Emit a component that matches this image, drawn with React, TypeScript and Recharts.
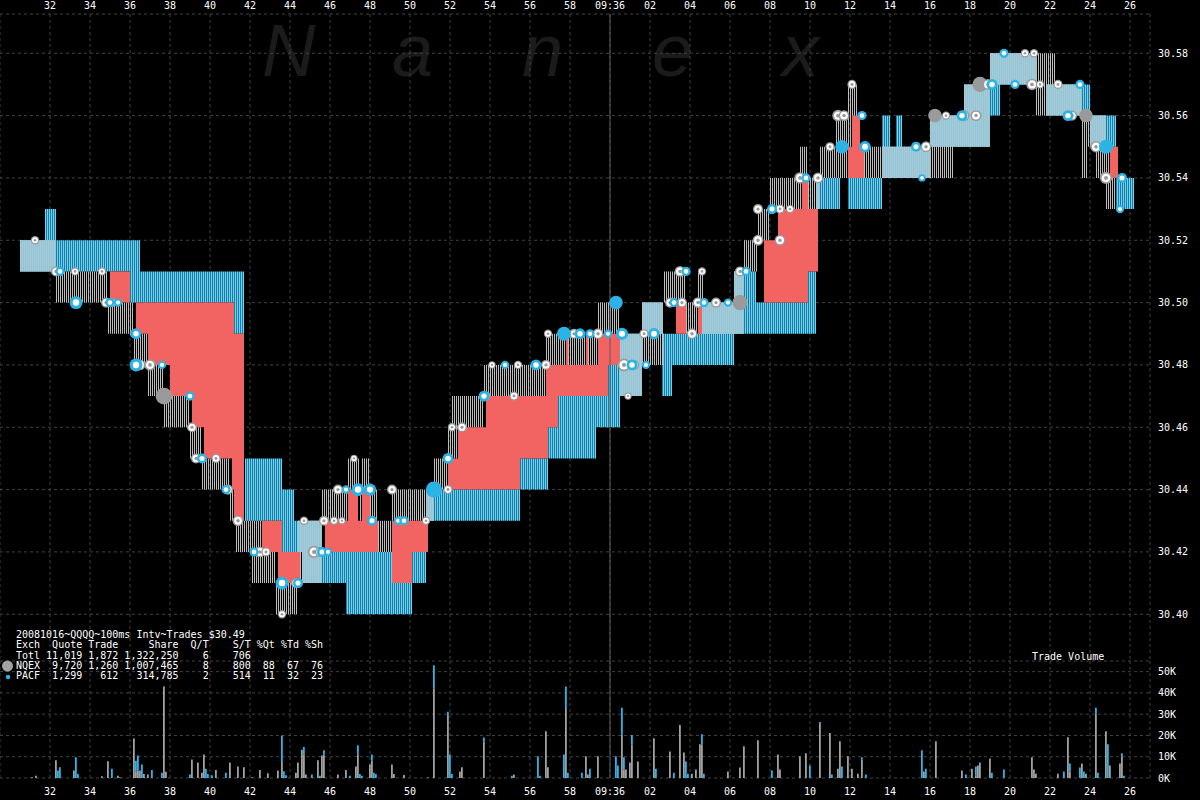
import React from 'react';
import { ComposedChart, Area, Scatter, Bar, XAxis, YAxis, ZAxis, CartesianGrid, ReferenceLine } from 'recharts';

// seconds after 09:35:00
const TIME_TICKS = [32, 34, 36, 38, 40, 42, 44, 46, 48, 50, 52, 54, 56, 58, 60, 62, 64, 66, 68, 70, 72, 74, 76, 78, 80, 82, 84, 86];
const PRICE_TICKS = [30.4, 30.42, 30.44, 30.46, 30.48, 30.5, 30.52, 30.54, 30.56, 30.58];
const VOLUME_TICKS = [0, 10000, 20000, 30000, 40000, 50000];

// quote bands: [start, end, low, high]
const NQEX_QUOTES = [
  [30.5, 32.3, 30.51, 30.52], [32.3, 34.9, 30.5, 30.51], [34.9, 36.2, 30.49, 30.5], [36.2, 36.9, 30.48, 30.49],
  [36.9, 37.7, 30.47, 30.48], [37.7, 39.0, 30.46, 30.47], [39.0, 39.6, 30.45, 30.46], [39.6, 41.0, 30.44, 30.45],
  [41.0, 41.3, 30.43, 30.44], [41.3, 42.1, 30.42, 30.43], [42.1, 42.6, 30.41, 30.43], [42.6, 43.3, 30.41, 30.42],
  [43.3, 44.4, 30.4, 30.41], [44.4, 45.6, 30.41, 30.43], [45.6, 46.9, 30.43, 30.44], [46.9, 47.5, 30.44, 30.45],
  [47.5, 47.6, 30.43, 30.44], [47.6, 48.0, 30.44, 30.45], [48.0, 48.4, 30.43, 30.44], [48.4, 49.1, 30.42, 30.43],
  [49.1, 51.2, 30.43, 30.44], [51.2, 51.9, 30.44, 30.45], [51.9, 52.1, 30.45, 30.46], [52.1, 52.4, 30.45, 30.47],
  [52.4, 53.7, 30.46, 30.47], [53.7, 56.8, 30.47, 30.48], [56.8, 59.4, 30.48, 30.49], [59.4, 60.5, 30.49, 30.5],
  [60.5, 61.6, 30.47, 30.49], [61.6, 62.7, 30.48, 30.5], [62.7, 63.8, 30.5, 30.51], [63.8, 64.4, 30.49, 30.5],
  [64.4, 64.7, 30.49, 30.51], [64.7, 66.2, 30.49, 30.5], [66.2, 66.7, 30.49, 30.51], [66.7, 67.4, 30.51, 30.52],
  [67.4, 68.0, 30.52, 30.53], [68.0, 69.5, 30.53, 30.54], [69.5, 69.9, 30.53, 30.55], [69.9, 70.5, 30.53, 30.54],
  [70.5, 71.3, 30.54, 30.55], [71.3, 71.9, 30.54, 30.56], [71.9, 72.4, 30.55, 30.57], [72.4, 76.0, 30.54, 30.55],
  [76.0, 77.2, 30.54, 30.56], [77.2, 77.7, 30.55, 30.56], [77.7, 79.0, 30.55, 30.57], [79.0, 81.3, 30.57, 30.58],
  [81.3, 82.3, 30.56, 30.58], [82.3, 83.6, 30.56, 30.57], [83.6, 83.9, 30.54, 30.56], [83.9, 84.3, 30.55, 30.56],
  [84.3, 84.8, 30.54, 30.56], [84.8, 85.3, 30.53, 30.55],
];

const PACF_QUOTES = [
  [30.5, 31.75, 30.51, 30.52], [31.75, 32.3, 30.51, 30.53], [32.3, 36.0, 30.51, 30.52], [36.0, 36.5, 30.5, 30.52],
  [36.5, 41.2, 30.5, 30.51], [41.2, 41.7, 30.49, 30.51], [41.75, 43.6, 30.43, 30.45], [43.6, 44.2, 30.42, 30.44],
  [44.2, 44.6, 30.42, 30.43], [44.6, 45.6, 30.41, 30.43], [45.6, 46.8, 30.41, 30.42], [46.8, 49.1, 30.4, 30.42],
  [49.1, 50.1, 30.4, 30.41], [50.1, 50.8, 30.41, 30.42], [50.8, 55.5, 30.43, 30.44], [55.5, 56.9, 30.44, 30.45],
  [56.9, 57.4, 30.45, 30.46], [57.4, 59.3, 30.45, 30.47], [59.3, 59.9, 30.46, 30.47], [59.9, 60.5, 30.46, 30.48],
  [60.5, 61.6, 30.47, 30.49], [61.6, 62.6, 30.49, 30.5], [62.6, 63.1, 30.47, 30.49], [63.1, 64.5, 30.48, 30.49],
  [64.5, 66.2, 30.48, 30.5], [66.2, 67.3, 30.49, 30.51], [67.3, 69.9, 30.49, 30.5], [69.9, 70.3, 30.49, 30.51],
  [70.3, 71.5, 30.53, 30.54], [71.9, 73.6, 30.53, 30.54], [73.6, 74.0, 30.54, 30.56], [74.0, 74.3, 30.54, 30.55],
  [74.3, 74.6, 30.54, 30.56], [74.6, 76.0, 30.54, 30.55], [76.0, 77.7, 30.55, 30.56], [77.7, 79.0, 30.55, 30.57],
  [79.0, 79.5, 30.56, 30.58], [79.5, 81.3, 30.57, 30.58], [81.8, 84.0, 30.56, 30.57], [84.0, 85.3, 30.55, 30.56],
  [85.3, 86.2, 30.53, 30.54],
];

const CROSSED = [
  [35.0, 36.0, 30.5, 30.51], [36.3, 36.9, 30.49, 30.5], [36.9, 38.0, 30.48, 30.5], [38.0, 39.1, 30.47, 30.5],
  [39.1, 39.7, 30.46, 30.5], [39.7, 41.1, 30.45, 30.5], [41.1, 41.2, 30.44, 30.5], [41.2, 41.7, 30.43, 30.49],
  [42.6, 43.4, 30.42, 30.43], [43.4, 43.6, 30.41, 30.43], [43.6, 44.5, 30.41, 30.42],
  [45.75, 46.9, 30.42, 30.43], [46.9, 47.4, 30.42, 30.44], [47.4, 47.6, 30.42, 30.43], [47.6, 48.0, 30.42, 30.44],
  [48.0, 48.4, 30.42, 30.43], [49.1, 50.1, 30.41, 30.43], [50.1, 50.9, 30.42, 30.43],
  [51.9, 52.4, 30.44, 30.45], [52.4, 53.8, 30.44, 30.46], [53.8, 55.5, 30.44, 30.47], [55.5, 56.8, 30.45, 30.47],
  [56.8, 56.9, 30.45, 30.48], [56.9, 57.4, 30.46, 30.48], [57.4, 57.8, 30.47, 30.48], [57.8, 57.9, 30.47, 30.49],
  [57.9, 58.8, 30.47, 30.48], [58.8, 58.9, 30.47, 30.49], [58.9, 59.4, 30.47, 30.48], [59.4, 59.9, 30.47, 30.49],
  [59.9, 60.5, 30.48, 30.49], [63.3, 63.8, 30.49, 30.5], [64.4, 64.6, 30.49, 30.5],
  [67.7, 68.4, 30.5, 30.52], [68.4, 69.6, 30.5, 30.53], [69.6, 69.9, 30.5, 30.54], [69.9, 70.4, 30.51, 30.53],
  [71.9, 72.1, 30.54, 30.55], [72.1, 72.5, 30.54, 30.56], [72.5, 72.7, 30.54, 30.55], [85.0, 85.4, 30.54, 30.55],
];

// trades: [time, price, size in hundreds]
const NQEX_TRADES = [
  [31.25, 30.52, 3], [32.3, 30.51, 5], [33.25, 30.51, 3], [34.6, 30.51, 3], [34.8, 30.5, 5], [35.1, 30.5, 4],
  [36.2, 30.49, 3], [36.5, 30.48, 6], [37.0, 30.48, 7], [37.7, 30.47, 16], [39.1, 30.46, 5], [39.3, 30.45, 5],
  [40.3, 30.45, 4], [40.9, 30.44, 5], [41.4, 30.43, 6], [42.5, 30.42, 6], [42.8, 30.42, 4], [43.6, 30.4, 3],
  [44.3, 30.41, 5], [44.7, 30.43, 3], [45.2, 30.42, 8], [45.5, 30.42, 5], [45.7, 30.43, 5], [46.2, 30.43, 3],
  [46.4, 30.44, 5], [46.6, 30.43, 2], [46.8, 30.44, 3], [47.2, 30.45, 2], [49.1, 30.44, 5], [49.5, 30.43, 4],
  [50.8, 30.43, 3], [51.9, 30.44, 4], [52.1, 30.46, 3], [52.6, 30.46, 5], [53.8, 30.47, 4], [54.1, 30.48, 2],
  [55.2, 30.47, 4], [55.4, 30.48, 3], [56.8, 30.48, 5], [56.9, 30.49, 3], [58.2, 30.49, 5], [59.4, 30.49, 6],
  [60.7, 30.48, 9], [61.2, 30.48, 5], [60.9, 30.47, 2], [61.7, 30.49, 4], [63.0, 30.5, 5], [63.5, 30.51, 6],
  [63.6, 30.5, 5], [64.1, 30.49, 6], [64.4, 30.5, 6], [64.6, 30.51, 3], [65.3, 30.5, 5], [66.5, 30.5, 13],
  [66.5, 30.51, 5], [67.4, 30.52, 6], [67.4, 30.53, 5], [68.5, 30.52, 6], [68.5, 30.53, 4], [69.0, 30.53, 3],
  [69.5, 30.54, 7], [70.4, 30.54, 6], [71.0, 30.55, 4], [71.4, 30.56, 7], [71.7, 30.56, 6], [72.1, 30.57, 4],
  [75.8, 30.55, 6], [76.25, 30.56, 10], [76.8, 30.56, 3], [77.7, 30.56, 6], [78.3, 30.56, 6], [78.5, 30.57, 13],
  [78.9, 30.57, 6], [80.75, 30.58, 3], [81.2, 30.58, 3], [81.1, 30.57, 7], [81.5, 30.57, 3], [82.4, 30.57, 4],
  [83.1, 30.56, 5], [83.8, 30.56, 10], [84.3, 30.55, 7], [84.8, 30.54, 8],
];

const PACF_TRADES = [
  [32.5, 30.51, 4], [33.3, 30.5, 9], [35.0, 30.5, 4], [35.4, 30.5, 3], [36.3, 30.49, 6], [36.3, 30.48, 9],
  [37.6, 30.48, 3], [39.0, 30.47, 4], [39.6, 30.45, 5], [40.8, 30.44, 4], [42.2, 30.42, 4], [43.6, 30.41, 9],
  [44.4, 30.41, 5], [45.6, 30.42, 5], [45.9, 30.42, 3], [46.8, 30.44, 3], [47.4, 30.44, 9], [48.0, 30.44, 8],
  [48.1, 30.43, 5], [49.4, 30.43, 3], [49.7, 30.43, 4], [51.2, 30.44, 15], [51.9, 30.45, 6], [53.7, 30.47, 6],
  [54.75, 30.48, 3], [56.3, 30.48, 6], [57.7, 30.49, 11], [58.5, 30.49, 6], [59.0, 30.49, 4], [59.9, 30.49, 3],
  [60.3, 30.5, 10], [60.6, 30.49, 8], [61.1, 30.48, 6], [61.8, 30.48, 3], [62.2, 30.49, 7], [63.2, 30.5, 4],
  [63.8, 30.51, 4], [64.7, 30.5, 4], [65.9, 30.5, 3], [66.8, 30.51, 4], [68.1, 30.53, 5], [69.8, 30.54, 4],
  [71.6, 30.55, 10], [72.75, 30.55, 7], [72.6, 30.56, 4], [75.3, 30.55, 5], [75.6, 30.54, 2], [77.6, 30.56, 6],
  [79.1, 30.57, 6], [79.7, 30.58, 4], [80.25, 30.57, 4], [82.9, 30.56, 6], [83.5, 30.57, 4], [84.8, 30.55, 11],
  [85.6, 30.54, 5], [85.5, 30.53, 3],
];

// trade volume per 100ms: [time, NQEX shares, PACF shares]
const VOLUME = [
  [31.1, 300, 0], [31.3, 1100, 0], [32.3, 8300, 0], [32.4, 0, 3500], [32.5, 0, 5000], [33.2, 3500, 0],
  [33.3, 0, 9800], [33.4, 0, 1900], [34.6, 800, 0], [34.9, 7900, 0], [35.1, 0, 4300], [35.4, 1100, 0],
  [35.5, 0, 300], [36.2, 18600, 0], [36.3, 3200, 4900], [36.4, 3500, 7100], [36.5, 3500, 0], [36.6, 0, 6300],
  [36.7, 1900, 0], [36.9, 1600, 0], [37.1, 0, 3800], [37.6, 0, 2500], [37.7, 43000, 0], [37.8, 2900, 0],
  [39.0, 0, 1600], [39.1, 8700, 0], [39.4, 7300, 0], [39.6, 2500, 0], [39.7, 11100, 0], [39.8, 0, 4400],
  [39.9, 0, 1900], [40.1, 0, 1300], [40.3, 3800, 0], [40.8, 0, 2500], [41.0, 7300, 0], [41.4, 5400, 0],
  [41.7, 5000, 0], [42.1, 0, 300], [42.5, 3800, 0], [42.9, 2200, 0], [43.4, 3500, 0], [43.6, 7500, 12500],
  [43.7, 0, 3200], [43.8, 0, 1300], [44.3, 2500, 0], [44.4, 7300, 0], [44.6, 13300, 0], [44.7, 11100, 3500],
  [44.8, 1600, 0], [45.1, 0, 1600], [45.4, 8300, 0], [45.5, 0, 1100], [45.6, 10600, 0], [45.7, 11000, 2000],
  [46.4, 1600, 0], [46.8, 3800, 0], [47.0, 0, 1100], [47.3, 5400, 0], [47.4, 11000, 4400], [47.5, 0, 1900],
  [47.6, 0, 1100], [48.0, 6300, 0], [48.1, 8300, 2700], [48.2, 0, 2500], [48.3, 0, 1900], [49.1, 6300, 0],
  [49.2, 1900, 0], [49.7, 1400, 0], [50.9, 300, 0], [51.2, 41900, 11100], [51.9, 29200, 1900], [52.0, 0, 11100],
  [52.1, 0, 1900], [52.5, 3000, 0], [52.6, 5000, 0], [53.7, 17000, 2000], [55.1, 0, 1000], [55.2, 1600, 0],
  [56.4, 0, 10200], [56.5, 0, 1000], [56.8, 22000, 0], [56.9, 5000, 0], [57.7, 0, 11100], [57.8, 32400, 10600],
  [57.9, 0, 2500], [58.6, 0, 2500], [58.8, 10200, 0], [58.9, 1600, 0], [59.0, 0, 4400], [59.4, 10200, 0],
  [60.3, 0, 10200], [60.4, 0, 5900], [60.6, 20300, 12700], [60.7, 4000, 5700], [60.8, 4000, 0], [61.0, 7300, 0],
  [61.1, 15700, 4500], [61.4, 7800, 0], [62.2, 18700, 0], [62.3, 0, 4400], [63.0, 12500, 0], [63.2, 0, 2500],
  [63.5, 24900, 0], [63.7, 12000, 0], [63.8, 0, 7800], [63.9, 0, 2000], [64.1, 2000, 0], [64.3, 4000, 0],
  [64.5, 15900, 0], [64.6, 15900, 4700], [64.7, 0, 2000], [65.9, 3000, 0], [66.5, 4900, 0], [66.7, 14900, 0],
  [67.4, 17800, 0], [68.1, 0, 3500], [68.4, 11100, 0], [68.5, 4000, 0], [69.5, 10200, 0], [69.8, 11600, 0],
  [70.0, 0, 5900], [70.5, 25400, 900], [71.0, 21100, 0], [71.1, 0, 1600], [71.4, 4400, 0], [71.5, 17300, 0],
  [71.6, 0, 5400], [71.9, 10200, 0], [72.1, 4400, 0], [72.4, 2000, 0], [72.6, 8700, 1000], [72.8, 0, 1600],
  [75.6, 0, 13000], [75.7, 3000, 0], [75.8, 0, 4400], [76.3, 17300, 0], [77.6, 3500, 0], [77.8, 0, 1600],
  [78.1, 4400, 0], [78.3, 1000, 4400], [78.4, 5900, 0], [78.5, 7300, 0], [79.0, 9200, 0], [79.1, 0, 2500],
  [79.7, 0, 4000], [81.1, 9700, 0], [81.2, 4000, 0], [81.3, 2000, 0], [82.4, 2000, 0], [82.7, 0, 3000],
  [82.9, 19200, 0], [83.0, 3000, 3800], [83.5, 0, 4900], [83.6, 6800, 0], [83.7, 0, 3000], [83.8, 2000, 0],
  [84.3, 30200, 2800], [84.4, 0, 2500], [84.8, 22000, 0], [84.9, 0, 15900], [85.0, 5900, 0], [85.5, 6800, 0],
  [85.6, 10200, 1400], [85.7, 0, 1000],
];

const STATS_LINES = [
  '20081016~QQQQ~100ms Intv~Trades $30.49',
  'Exch  Quote Trade     Share  Q/T    S/T %Qt %Td %Sh',
  'Totl 11,019 1,872 1,322,250    6    706',
  'NQEX  9,720 1,260 1,007,465    8    800  88  67  76',
  'PACF  1,299   612   314,785    2    514  11  32  23',
];

const WATERMARK = ['N', 'a', 'n', 'e', 'x'];

const MONO = '"DejaVu Sans Mono", monospace';
const GRAY = '#a2a2a2';
const CYAN = '#2cb3e6';
const axisTick = { fill: '#ffffff', fontSize: 10, fontFamily: MONO };

const timeLabel = (t: number) => (t === 60 ? '09:36' : String(t % 60).padStart(2, '0'));

function toBand(steps: number[][]) {
  const out: { t: number; v: number[] | null }[] = [];
  steps.forEach(([t0, t1, lo, hi], i) => {
    const prev = steps[i - 1];
    if (prev && prev[1] !== t0) out.push({ t: prev[1], v: null });
    out.push({ t: t0, v: [lo, hi] }, { t: t1, v: [lo, hi] });
  });
  return out;
}

// where both exchanges quote the same range
function overlapSteps(a: number[][], b: number[][]) {
  const out: number[][] = [];
  a.forEach(([a0, a1, alo, ahi]) => {
    b.forEach(([b0, b1, blo, bhi]) => {
      const t0 = Math.max(a0, b0);
      const t1 = Math.min(a1, b1);
      const lo = Math.max(alo, blo);
      const hi = Math.min(ahi, bhi);
      if (t1 > t0 && hi - lo > 0.001) out.push([t0, t1, lo, hi]);
    });
  });
  return out.sort((p, q) => p[0] - q[0]);
}

const toTrades = (rows: number[][]) => rows.map(([t, p, z]) => ({ t, p, z }));

const nqexBand = toBand(NQEX_QUOTES);
const pacfBand = toBand(PACF_QUOTES);
const bothBand = toBand(overlapSteps(NQEX_QUOTES, PACF_QUOTES));
const crossedBand = toBand(CROSSED);
const volumeRows = VOLUME.map(([t, nq, pa]) => ({ t, nq, pa }));

const radiusOf = (props: any) =>
  props.size != null ? Math.sqrt(props.size / Math.PI) : (props.width ?? 6) / 2;

// NQEX trades: gray disc, white ring, gray core (solid when large)
const NqexDot = (props: any) => {
  const { cx, cy } = props;
  if (cx == null || cy == null) return <g />;
  const r = radiusOf(props);
  if (r >= 6.5) return <circle cx={cx} cy={cy} r={r} fill="#9a9a9a" />;
  return (
    <g>
      <circle cx={cx} cy={cy} r={r} fill="#9a9a9a" />
      <circle cx={cx} cy={cy} r={r * 0.72} fill="#ffffff" />
      <circle cx={cx} cy={cy} r={r * 0.32} fill="#9a9a9a" />
    </g>
  );
};

// PACF trades: cyan disc with white core (solid when large)
const PacfDot = (props: any) => {
  const { cx, cy } = props;
  if (cx == null || cy == null) return <g />;
  const r = radiusOf(props);
  return (
    <g>
      <circle cx={cx} cy={cy} r={r} fill={CYAN} />
      {r < 6.5 && <circle cx={cx} cy={cy} r={r * 0.5} fill="#ffffff" />}
    </g>
  );
};

export default function App() {
  return (
    <div style={{ position: 'absolute', left: 0, top: 0, width: 1200, height: 800, background: '#000', overflow: 'hidden' }}>
      {/* watermark */}
      <svg width={1200} height={100} style={{ position: 'absolute', left: 0, top: 0 }}>
        {WATERMARK.map((ch, i) => (
          <text key={i} x={262 + i * 130} y={76} fill="#1b1b1b" fontSize={74} fontStyle="italic" fontFamily="'Liberation Sans', Arial, sans-serif">
            {ch}
          </text>
        ))}
      </svg>

      <div style={{ position: 'absolute', left: 0, top: 0 }}>
        <ComposedChart width={1200} height={661} margin={{ top: 0, right: 0, bottom: 0, left: 0 }}>
          <defs>
            <pattern id="nqexHatch" patternUnits="userSpaceOnUse" x="0" y="0" width="2" height="8">
              <rect x="0" y="0" width="1" height="8" fill="#bdbdbd" shapeRendering="crispEdges" />
            </pattern>
            <pattern id="pacfHatch" patternUnits="userSpaceOnUse" x="0" y="0" width="2" height="8">
              <rect x="0" y="0" width="2" height="8" fill="#1f7a9c" shapeRendering="crispEdges" />
              <rect x="1" y="0" width="1" height="8" fill="#6ad4f8" shapeRendering="crispEdges" />
            </pattern>
            <pattern id="bothHatch" patternUnits="userSpaceOnUse" x="0" y="0" width="2" height="8">
              <rect x="0" y="0" width="2" height="8" fill="#86c9e0" shapeRendering="crispEdges" />
              <rect x="0" y="0" width="1" height="8" fill="#b3c6cc" shapeRendering="crispEdges" />
            </pattern>
          </defs>
          <CartesianGrid stroke="#424242" strokeDasharray="3 3" />
          <XAxis dataKey="t" type="number" orientation="top" domain={[29.5, 87]} allowDataOverflow ticks={TIME_TICKS}
            tickFormatter={timeLabel} height={14} tickSize={0} tickMargin={5} axisLine={false} tickLine={false} tick={axisTick} interval={0} />
          <YAxis type="number" orientation="right" domain={[30.385, 30.5926]} allowDataOverflow ticks={PRICE_TICKS}
            tickFormatter={(v: number) => v.toFixed(2)} width={50} axisLine={false} tickLine={false} tick={axisTick} interval={0} />
          <ZAxis dataKey="z" type="number" domain={[0, 16]} range={[16, 220]} />
          <ReferenceLine x={60} stroke="#5c5c5c" />
          <Area data={pacfBand} dataKey="v" type="linear" stroke="none" fill="url(#pacfHatch)" fillOpacity={1} isAnimationActive={false} />
          <Area data={nqexBand} dataKey="v" type="linear" stroke="none" fill="url(#nqexHatch)" fillOpacity={1} isAnimationActive={false} />
          <Area data={bothBand} dataKey="v" type="linear" stroke="none" fill="url(#bothHatch)" fillOpacity={1} isAnimationActive={false} />
          <Area data={crossedBand} dataKey="v" type="linear" stroke="none" fill="#f26462" fillOpacity={1} isAnimationActive={false} />
          <Scatter data={toTrades(NQEX_TRADES)} dataKey="p" shape={NqexDot} isAnimationActive={false} />
          <Scatter data={toTrades(PACF_TRADES)} dataKey="p" shape={PacfDot} isAnimationActive={false} />
        </ComposedChart>
      </div>

      <div style={{ position: 'absolute', left: 0, top: 661 }}>
        <ComposedChart width={1200} height={139} data={volumeRows} margin={{ top: 0, right: 0, bottom: 0, left: 0 }}>
          <CartesianGrid stroke="#424242" strokeDasharray="3 3" />
          <XAxis dataKey="t" type="number" domain={[29.5, 87]} allowDataOverflow ticks={TIME_TICKS} tickFormatter={timeLabel}
            height={22} tickMargin={4} axisLine={false} tickLine={false} tick={axisTick} interval={0} />
          <YAxis type="number" orientation="right" domain={[0, 55000]} allowDataOverflow ticks={VOLUME_TICKS}
            tickFormatter={(v: number) => `${v / 1000}K`} width={50} axisLine={false} tickLine={false} tick={axisTick} interval={0} />
          <ReferenceLine x={60} stroke="#5c5c5c" />
          <Bar dataKey="nq" stackId="vol" fill={GRAY} barSize={2} isAnimationActive={false} />
          <Bar dataKey="pa" stackId="vol" fill={CYAN} barSize={2} isAnimationActive={false} />
        </ComposedChart>
      </div>

      {/* stats block */}
      <svg width={20} height={30} style={{ position: 'absolute', left: 0, top: 655 }}>
        <circle cx={7.5} cy={11} r={5.5} fill={GRAY} />
        <circle cx={8} cy={22} r={2.2} fill={CYAN} />
      </svg>
      <div style={{ position: 'absolute', left: 16, top: 630, color: '#fff', fontFamily: MONO, fontSize: 10, lineHeight: '10.3px', whiteSpace: 'pre' }}>
        {STATS_LINES.join('\n')}
      </div>
      <div style={{ position: 'absolute', left: 1032, top: 652, color: '#fff', fontFamily: MONO, fontSize: 10, lineHeight: '10px', whiteSpace: 'pre' }}>
        Trade Volume
      </div>
    </div>
  );
}
